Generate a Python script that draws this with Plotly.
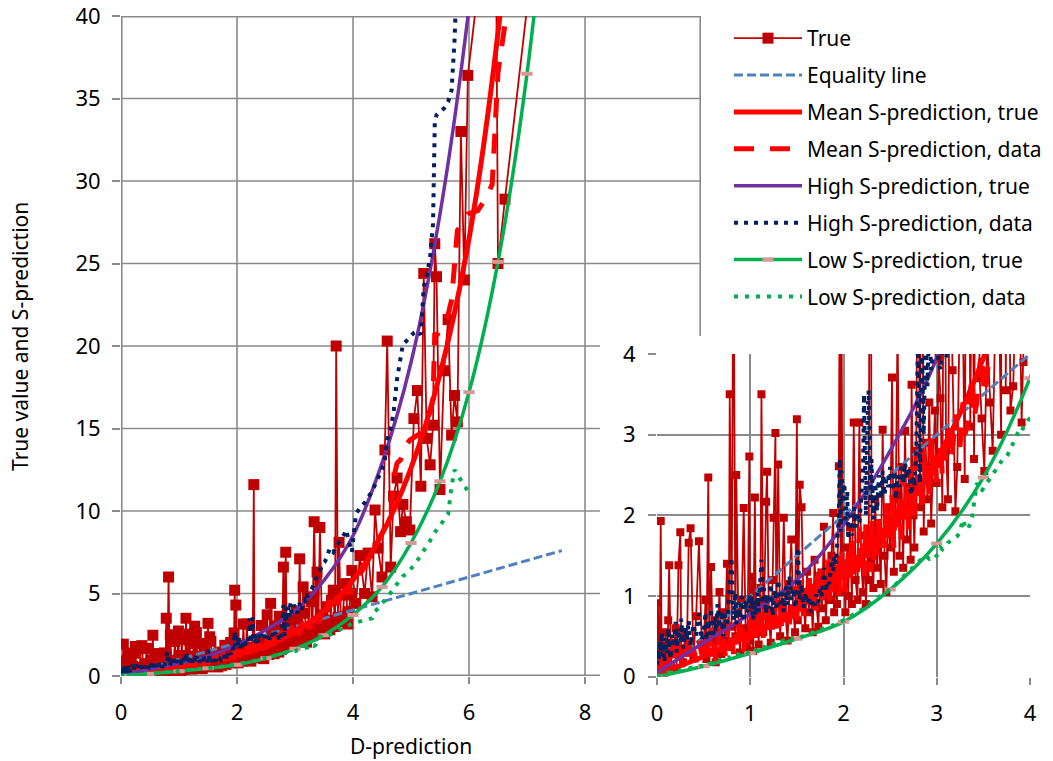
import plotly.graph_objects as go

# ---------------------------------------------------------------------------
# Records: D-prediction (ascending) with the true value and the three
# S-predictions computed from the data
# ---------------------------------------------------------------------------
D_PRED = [
    0.00, 0.01, 0.02, 0.03, 0.04, 0.05, 0.07, 0.08, 0.09, 0.11,
    0.12, 0.13, 0.15, 0.16, 0.18, 0.20, 0.21, 0.23, 0.25, 0.26,
    0.28, 0.30, 0.32, 0.34, 0.36, 0.39, 0.42, 0.45, 0.48,
    0.50, 0.52, 0.53, 0.55, 0.56, 0.58, 0.60, 0.62, 0.63, 0.65,
    0.67, 0.69, 0.71, 0.73, 0.75, 0.77, 0.78, 0.80, 0.82, 0.84,
    0.85, 0.87, 0.89, 0.91, 0.93, 0.95, 0.97, 0.99,
    1.00, 1.02, 1.03, 1.05, 1.06, 1.08, 1.09, 1.11, 1.12, 1.14,
    1.15, 1.17, 1.18, 1.20, 1.22, 1.24, 1.25, 1.27, 1.28, 1.30,
    1.32, 1.34, 1.36, 1.38, 1.40, 1.42, 1.44, 1.46, 1.48,
    1.50, 1.51, 1.53, 1.55, 1.57, 1.59, 1.61, 1.63, 1.65, 1.67,
    1.69, 1.71, 1.73, 1.75, 1.77, 1.79, 1.81, 1.83, 1.85, 1.87,
    1.89, 1.90, 1.92, 1.93, 1.95, 1.96, 1.97, 1.98, 1.99,
    2.01, 2.02, 2.04, 2.05, 2.07, 2.09, 2.11, 2.13, 2.15, 2.17,
    2.19, 2.21, 2.22, 2.24, 2.26, 2.27, 2.29, 2.30, 2.32, 2.34,
    2.36, 2.38, 2.40, 2.42, 2.44, 2.46, 2.48,
    2.50, 2.52, 2.54, 2.56, 2.58, 2.60, 2.62, 2.64, 2.66, 2.68,
    2.70, 2.72, 2.73, 2.75, 2.76, 2.78, 2.80, 2.82, 2.84, 2.86,
    2.88, 2.90, 2.92, 2.94, 2.96, 2.98,
    3.00, 3.02, 3.04, 3.06, 3.08, 3.10, 3.12, 3.14, 3.17, 3.20,
    3.22, 3.25, 3.28, 3.30, 3.33, 3.36, 3.38, 3.40, 3.43, 3.46,
    3.48, 3.51, 3.54, 3.57, 3.60, 3.63, 3.66, 3.69, 3.71, 3.74,
    3.76, 3.79, 3.82, 3.85, 3.88, 3.91, 3.93, 3.96, 3.98,
    4.05, 4.12, 4.20, 4.26, 4.33, 4.38, 4.43, 4.50, 4.55, 4.59,
    4.65, 4.70, 4.76, 4.82, 4.86, 4.92, 4.98,
    5.05, 5.11, 5.17, 5.22, 5.27, 5.33, 5.38, 5.41, 5.44, 5.50,
    5.57, 5.64, 5.70, 5.75, 5.80, 5.86, 5.92, 5.98,
    6.15, 6.30, 6.40, 6.46, 6.50, 6.62, 7.05, 7.20,
]

TRUE_VAL = [
    0.08, 0.91, 0.25, 0.45, 1.93, 0.15, 0.38, 0.05, 0.55, 0.20,
    0.70, 1.38, 0.12, 0.42, 0.28, 0.60, 0.10, 1.38, 1.79, 0.35,
    0.18, 0.52, 0.30, 1.66, 1.84, 0.25, 0.75, 1.68, 0.40,
    0.35, 0.95, 0.22, 2.47, 0.48, 1.36, 0.30, 0.70, 0.18, 0.55,
    1.05, 0.28, 0.80, 0.45, 1.40, 0.38, 3.50, 0.62, 6.00, 0.50,
    2.50, 0.85, 0.30, 0.95, 2.09, 0.60, 0.35, 2.73,
    0.45, 1.24, 0.32, 2.22, 0.60, 0.88, 0.40, 1.10, 3.50, 0.55,
    0.95, 2.17, 2.54, 0.70, 0.42, 1.20, 1.97, 3.02, 0.65, 2.63,
    0.50, 0.90, 1.97, 0.75, 0.45, 1.15, 1.70, 0.85, 0.55,
    3.19, 0.70, 2.38, 2.10, 0.95, 0.60, 1.30, 0.80, 1.10, 0.55,
    1.45, 0.90, 0.62, 1.25, 0.85, 1.86, 0.70, 1.15, 0.95, 1.50,
    2.03, 0.80, 1.30, 0.90, 2.61, 5.20, 1.05, 4.30, 1.40,
    1.25, 0.80, 1.60, 1.00, 1.85, 0.90, 3.15, 1.20, 0.95, 3.15,
    1.40, 1.05, 1.75, 0.90, 1.55, 1.20, 11.60, 1.45, 1.10, 2.20,
    1.35, 1.80, 1.15, 3.06, 1.50, 1.05, 2.10,
    1.60, 3.71, 1.30, 2.20, 4.40, 1.50, 2.60, 1.35, 3.05, 1.70,
    2.35, 1.45, 3.62, 2.00, 1.60, 2.80, 6.60, 2.10, 7.50, 1.80,
    2.90, 2.20, 3.40, 1.90, 2.60, 3.30,
    2.40, 3.95, 3.45, 2.10, 7.10, 2.80, 2.20, 5.40, 3.80, 2.05,
    2.60, 4.80, 4.50, 2.45, 9.35, 3.10, 6.30, 2.70, 9.00, 3.70,
    3.20, 2.55, 4.20, 3.40, 2.80, 4.60, 5.20, 3.00, 20.00, 3.55,
    8.10, 3.30, 3.60, 4.90, 5.60, 3.15, 3.90, 5.00, 6.40,
    4.40, 7.30, 5.00, 7.45, 4.80, 10.06, 7.75, 6.00, 13.70, 20.30,
    6.60, 10.90, 12.00, 8.75, 10.40, 9.35, 8.85,
    15.60, 17.30, 11.50, 24.40, 14.40, 12.80, 15.20, 26.20, 24.20, 11.30,
    18.50, 21.60, 14.60, 17.00, 15.40, 33.00, 24.00, 36.40,
    41.50, 55.00, 60.00, 48.00, 25.00, 28.90, 42.00, 50.00,
]

MEAN_S_DATA = [
    0.10, 0.30, 0.06, 0.22, 0.40, 0.12, 0.28, 0.08, 0.35, 0.15,
    0.42, 0.18, 0.10, 0.38, 0.20, 0.45, 0.14, 0.30, 0.50, 0.22,
    0.12, 0.40, 0.25, 0.48, 0.20, 0.36, 0.18, 0.44, 0.28,
    0.30, 0.55, 0.20, 0.45, 0.28, 0.60, 0.25, 0.50, 0.18, 0.42,
    0.62, 0.30, 0.55, 0.26, 0.48, 0.68, 0.32, 0.58, 0.28, 0.52,
    0.40, 0.70, 0.35, 0.60, 0.30, 0.65, 0.42, 0.72,
    0.45, 0.78, 0.50, 0.85, 0.40, 0.72, 0.95, 0.55, 0.80, 0.48,
    0.90, 0.62, 1.00, 0.58, 0.85, 0.52, 0.95, 0.66, 1.05, 0.60,
    0.88, 0.55, 1.00, 0.70, 1.10, 0.65, 0.92, 0.72, 1.12,
    0.70, 1.05, 0.80, 1.20, 0.75, 1.10, 0.85, 1.30, 0.90, 1.15,
    0.82, 1.25, 0.95, 1.40, 0.88, 1.20, 1.00, 1.45, 0.95, 1.30,
    1.05, 1.55, 1.10, 1.35, 1.00, 1.50, 1.15, 1.60, 1.20,
    1.05, 1.45, 1.15, 1.60, 1.20, 1.75, 1.25, 1.55, 1.30, 1.85,
    1.35, 1.65, 1.25, 1.90, 1.40, 1.70, 1.30, 2.00, 1.45, 1.80,
    1.50, 2.05, 1.55, 1.90, 1.60, 2.15, 1.65,
    1.75, 2.25, 1.60, 2.40, 1.85, 2.20, 1.70, 2.50, 1.95, 2.35,
    1.80, 2.60, 2.05, 2.45, 1.95, 2.75, 2.15, 2.55, 2.05, 2.85,
    2.30, 2.70, 2.20, 3.00, 2.45, 2.80,
    2.40, 2.75, 2.90, 2.50, 2.60, 3.05, 3.10, 2.70, 2.80, 3.25,
    3.00, 2.85, 3.40, 3.00, 3.10, 3.55, 3.70, 3.20, 3.40, 3.85,
    4.00, 3.50, 3.70, 4.20, 4.60, 4.00, 4.20, 4.55, 4.80, 4.30,
    4.50, 5.05, 5.00, 4.60, 4.80, 5.25, 5.40, 5.00, 5.30,
    5.60, 6.20, 6.60, 7.00, 7.40, 7.80, 8.20, 8.60, 9.00, 9.40,
    9.60, 12.00, 12.90, 13.10, 13.50, 14.00, 14.30,
    14.50, 14.60, 14.70, 14.80, 15.50, 16.00, 16.80, 20.80, 20.60, 21.00,
    21.50, 21.90, 22.80, 24.60, 27.00, 27.30, 27.60, 28.00,
    28.20, 29.00, 29.80, 34.00, 36.60, 39.50, 55.00, 62.00,
]

HIGH_S_DATA = [
    0.15, 0.35, 0.20, 0.45, 0.25, 0.55, 0.30, 0.18, 0.48, 0.28,
    0.60, 0.35, 0.22, 0.52, 0.40, 0.68, 0.30, 0.58, 0.42, 0.72,
    0.35, 0.62, 0.45, 0.70, 0.38, 0.65, 0.50, 0.78, 0.45,
    0.55, 0.80, 0.45, 0.70, 0.52, 0.85, 0.48, 0.75, 0.55, 0.90,
    0.60, 0.82, 0.50, 0.78, 0.62, 0.95, 1.20, 1.48, 0.70, 1.05,
    0.65, 0.92, 0.72, 1.00, 0.68, 0.95, 0.80, 1.02,
    0.85, 1.00, 0.70, 0.95, 0.75, 1.05, 0.80, 1.20, 1.45, 0.90,
    1.10, 0.78, 1.02, 0.85, 1.15, 0.75, 0.95, 1.08, 0.82, 1.20,
    0.90, 1.05, 0.80, 1.12, 0.88, 1.25, 0.95, 1.10, 0.85,
    1.00, 1.60, 0.95, 1.15, 0.85, 1.05, 0.90, 1.00, 0.80, 0.95,
    0.88, 1.02, 0.92, 1.10, 1.00, 1.35, 1.05, 1.20, 1.15, 1.45,
    1.30, 1.50, 1.40, 1.60, 2.00, 2.70, 1.80, 2.55, 2.20,
    2.40, 1.90, 2.30, 1.70, 2.00, 1.75, 2.10, 1.85, 2.05, 1.90,
    2.20, 2.60, 3.50, 2.00, 3.30, 3.55, 2.10, 2.70, 1.95, 2.40,
    2.05, 2.50, 2.20, 2.55, 2.25, 2.45, 2.35,
    2.60, 2.30, 2.55, 2.20, 2.50, 2.35, 2.60, 2.40, 2.65, 2.45,
    2.60, 2.30, 2.25, 2.50, 2.35, 2.80, 4.30, 2.40, 4.10, 3.00,
    4.20, 3.60, 4.40, 3.80, 4.10, 4.30,
    4.20, 3.90, 3.80, 4.30, 4.40, 3.95, 4.10, 4.50, 4.60, 4.40,
    4.90, 5.00, 5.20, 5.40, 5.60, 5.80, 6.10, 6.20, 6.40, 6.60,
    6.80, 6.90, 7.10, 7.40, 7.75, 7.60, 7.50, 7.70, 7.90, 8.00,
    8.10, 8.25, 8.40, 8.60, 8.85, 8.50, 8.20, 7.80, 7.50,
    9.80, 10.20, 10.50, 10.80, 11.20, 11.60, 12.00, 12.50, 13.10, 14.30,
    15.00, 16.00, 18.00, 19.50, 20.10, 20.30, 20.50,
    20.80, 20.90, 20.70, 23.60, 24.20, 25.40, 27.40, 33.50, 34.00, 34.20,
    34.40, 34.80, 35.50, 38.50, 46.00, 50.00, 55.00, 60.00,
    70.00, 80.00, 85.00, 88.00, 90.00, 98.00, 125.00, 135.00,
]

LOW_S_DATA = [
    0.01, 0.01, 0.02, 0.02, 0.02, 0.03, 0.03, 0.03, 0.04, 0.04,
    0.05, 0.05, 0.05, 0.06, 0.06, 0.07, 0.07, 0.07, 0.08, 0.08,
    0.09, 0.09, 0.10, 0.10, 0.11, 0.11, 0.12, 0.13, 0.13,
    0.13, 0.14, 0.15, 0.14, 0.16, 0.17, 0.16, 0.18, 0.19, 0.18,
    0.20, 0.21, 0.22, 0.21, 0.23, 0.24, 0.23, 0.25, 0.26, 0.25,
    0.27, 0.28, 0.27, 0.29, 0.28, 0.30, 0.29, 0.31,
    0.30, 0.31, 0.30, 0.32, 0.33, 0.32, 0.34, 0.35, 0.34, 0.36,
    0.37, 0.36, 0.38, 0.39, 0.38, 0.40, 0.41, 0.40, 0.42, 0.43,
    0.42, 0.44, 0.45, 0.44, 0.46, 0.47, 0.46, 0.48, 0.48,
    0.47, 0.48, 0.49, 0.49, 0.50, 0.51, 0.52, 0.52, 0.54, 0.55,
    0.55, 0.56, 0.58, 0.58, 0.59, 0.60, 0.61, 0.62, 0.63, 0.63,
    0.64, 0.65, 0.66, 0.66, 0.67, 0.67, 0.68, 0.68, 0.69,
    0.70, 0.71, 0.72, 0.73, 0.75, 0.76, 0.77, 0.79, 0.80, 0.82,
    0.83, 0.85, 0.85, 0.87, 0.89, 0.89, 0.91, 0.92, 0.94, 0.95,
    0.97, 0.99, 1.00, 1.02, 1.04, 1.05, 1.07,
    1.08, 1.10, 1.12, 1.15, 1.17, 1.19, 1.21, 1.24, 1.26, 1.28,
    1.30, 1.33, 1.34, 1.36, 1.38, 1.40, 1.43, 1.45, 1.47, 1.49,
    1.50, 1.48, 1.46, 1.47, 1.45, 1.48,
    1.50, 1.52, 1.60, 1.58, 1.62, 1.63, 1.66, 1.68, 1.70, 1.72,
    1.74, 1.80, 1.95, 1.88, 1.82, 1.90, 1.98, 2.15, 2.40, 2.35,
    2.30, 2.35, 2.40, 2.45, 2.50, 2.55, 2.60, 2.65, 2.70, 2.72,
    2.75, 2.82, 2.90, 2.97, 3.05, 3.03, 3.10, 3.14, 3.18,
    3.25, 3.35, 3.40, 3.45, 3.50, 3.90, 4.15, 4.40, 4.60, 4.75,
    5.05, 5.30, 5.60, 5.90, 6.05, 6.20, 6.40,
    6.70, 7.00, 7.30, 7.55, 7.80, 8.20, 8.55, 8.70, 8.90, 9.20,
    9.55, 9.80, 11.50, 12.50, 12.20, 11.90, 11.55, 11.20,
    None, None, None, None, None, None, None, None,
]

# S-prediction curves from the true relation, sampled every 0.5 of D
CURVE_D = [0.0, 0.5, 1.0, 1.5, 2.0, 2.5, 3.0, 3.5,
           4.0, 4.5, 5.0, 5.5, 6.0, 6.5, 7.0, 7.5]
MEAN_S_TRUE = [0.03, 0.25, 0.52, 0.84, 1.28, 1.85, 2.70, 3.95,
               5.80, 8.60, 12.60, 18.30, 26.50, 39.00, 58.00, 85.00]
HIGH_S_TRUE = [0.05, 0.42, 0.78, 1.20, 1.88, 2.80, 3.95, 5.80,
               8.50, 12.90, 19.00, 28.00, 40.50, 58.00, 85.00, 120.00]
LOW_S_TRUE = [0.00, 0.13, 0.29, 0.47, 0.68, 1.08, 1.65, 2.47,
              3.70, 5.40, 8.06, 11.80, 17.20, 25.10, 36.50, 53.00]

EQUALITY_D = [0.0, 7.6]
EQUALITY_S = [0.0, 7.6]

for arr in (TRUE_VAL, MEAN_S_DATA, HIGH_S_DATA, LOW_S_DATA):
    assert len(arr) == len(D_PRED), len(arr)

# ---------------------------------------------------------------------------
W, H = 1053, 761
FONT = "Noto Sans"
GRID = "#8a8a8a"
GRID_W = 1.6

# pixel frame of both panels
MAIN_L, MAIN_R, MAIN_T, MAIN_B = 121, 701, 16, 676
INS_L, INS_R, INS_T, INS_B = 657, 1030, 354, 676.7
# part of the main panel hidden behind the inset (data units)
HIDDEN_FROM_D = 8.26
HIDDEN_BELOW_S = 20.6
MAIN_D_MAX, MAIN_S_MAX = 10, 40


def px_x(p):
    return p / W


def px_y(p):
    return 1 - p / H


fig = go.Figure()

series = [
    dict(name="True", x=D_PRED, y=TRUE_VAL, mode="lines+markers",
         line=dict(color="#C00000", width=1.8),
         marker=dict(symbol="square", color="#C00000", size=11),
         inset_marker=dict(symbol="square", color="#C00000", size=8)),
    dict(name="Equality line", x=EQUALITY_D, y=EQUALITY_S, mode="lines",
         line=dict(color="#4F81BD", width=3, dash="9px,4px")),
    dict(name="Mean S-prediction, true", x=CURVE_D, y=MEAN_S_TRUE, mode="lines",
         line=dict(color="#FF0000", width=5, shape="spline")),
    dict(name="Mean S-prediction, data", x=D_PRED, y=MEAN_S_DATA, mode="lines",
         line=dict(color="#FF0000", width=5, dash="20px,16px")),
    dict(name="High S-prediction, true", x=CURVE_D, y=HIGH_S_TRUE, mode="lines",
         line=dict(color="#7030A0", width=3.5, shape="spline")),
    dict(name="High S-prediction, data", x=D_PRED, y=HIGH_S_DATA, mode="lines",
         line=dict(color="#002060", width=4, dash="4px,6px")),
    dict(name="Low S-prediction, true", x=CURVE_D, y=LOW_S_TRUE, mode="lines+markers",
         line=dict(color="#00B050", width=3.5, shape="spline"),
         marker=dict(symbol="line-ew", size=8, color="#D99694",
                     line=dict(color="#D99694", width=4)),
         inset_marker=dict(symbol="line-ew", size=8, color="#D99694",
                           line=dict(color="#D99694", width=4))),
    dict(name="Low S-prediction, data", x=D_PRED, y=LOW_S_DATA, mode="lines",
         line=dict(color="#00B050", width=4, dash="4px,7px")),
]

for panel, (xa, ya) in enumerate([("x", "y"), ("x2", "y2")]):
    for s in series:
        kw = dict(x=s["x"], y=s["y"], mode=s["mode"], name=s["name"],
                  line=s["line"], xaxis=xa, yaxis=ya,
                  legendgroup=s["name"], showlegend=(panel == 0),
                  connectgaps=False, hoverinfo="skip")
        if "marker" in s:
            kw["marker"] = s["marker"] if panel == 0 else s["inset_marker"]
        fig.add_trace(go.Scatter(**kw))

# gridlines of the main panel, kept clear of the inset; lines lying on the
# panel border are clipped to half their width, so they are drawn doubled
shapes = []
for s_val in range(0, MAIN_S_MAX + 5, 5):
    x_end = MAIN_D_MAX if s_val > HIDDEN_BELOW_S else HIDDEN_FROM_D
    w = GRID_W * 2 if s_val in (0, MAIN_S_MAX) else GRID_W
    shapes.append(dict(type="line", xref="x", yref="y", x0=0, x1=x_end,
                       y0=s_val, y1=s_val, layer="below",
                       line=dict(color=GRID, width=w)))
for d_val in range(0, MAIN_D_MAX + 2, 2):
    y_start = HIDDEN_BELOW_S if d_val > HIDDEN_FROM_D else 0
    w = GRID_W * 2 if d_val in (0, MAIN_D_MAX) else GRID_W
    shapes.append(dict(type="line", xref="x", yref="y", x0=d_val, x1=d_val,
                       y0=y_start, y1=MAIN_S_MAX, layer="below",
                       line=dict(color=GRID, width=w)))

tick_font = dict(family=FONT, size=22, color="#000000")
text_font = dict(family=FONT, size=21, color="#000000")

axis_common = dict(ticks="outside", tickwidth=GRID_W, tickcolor=GRID,
                   zeroline=False, showline=False, tickfont=tick_font,
                   automargin=False, ticklabeloverflow="allow")

fig.update_layout(
    template="none",
    width=W, height=H,
    margin=dict(l=0, r=0, t=0, b=0, pad=0),
    paper_bgcolor="white", plot_bgcolor="white",
    showlegend=True,
    shapes=shapes,
    xaxis=dict(domain=[px_x(MAIN_L), px_x(MAIN_R)], range=[0, MAIN_D_MAX],
               tickvals=[0, 2, 4, 6, 8], ticklen=7, showgrid=False,
               ticklabelstandoff=10, **axis_common),
    yaxis=dict(domain=[px_y(MAIN_B), px_y(MAIN_T)], range=[0, MAIN_S_MAX],
               tickvals=list(range(0, MAIN_S_MAX + 5, 5)), ticklen=8,
               showgrid=False, ticklabelstandoff=7, **axis_common),
    xaxis2=dict(domain=[px_x(INS_L), px_x(INS_R)], range=[0, 4], anchor="y2",
                dtick=1, ticklen=7, showgrid=True, gridcolor=GRID,
                gridwidth=GRID_W, ticklabelstandoff=10, **axis_common),
    yaxis2=dict(domain=[px_y(INS_B), px_y(INS_T)], range=[0, 4], anchor="x2",
                dtick=1, ticklen=8, showgrid=True, gridcolor=GRID,
                gridwidth=GRID_W, ticklabelstandoff=8, **axis_common),
    legend=dict(x=px_x(729), y=px_y(18), xanchor="left", yanchor="top",
                font=text_font, itemwidth=68, traceorder="grouped",
                tracegroupgap=6.6, bgcolor="rgba(255,255,255,0)",
                borderwidth=0),
    annotations=[
        dict(text="D-prediction", xref="paper", yref="paper",
             x=px_x((MAIN_L + MAIN_R) / 2), y=px_y(746), xanchor="center",
             yanchor="middle", showarrow=False, font=text_font),
        dict(text="True value and S-prediction", xref="paper", yref="paper",
             x=px_x(20), y=px_y(337), xanchor="center", yanchor="middle",
             textangle=-90, showarrow=False, font=text_font),
    ],
)

fig.write_html("out.html")
